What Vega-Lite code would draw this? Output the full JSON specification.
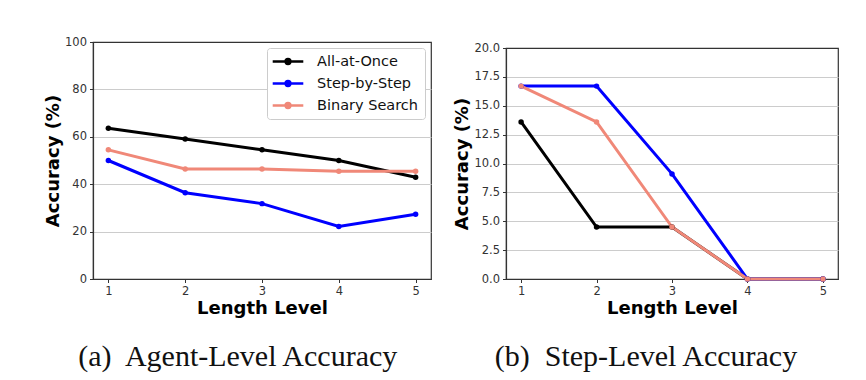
{
  "$schema": "https://vega.github.io/schema/vega-lite/v6.json",
  "padding": {"left": 43, "top": 35, "right": 5, "bottom": 5},
  "spacing": 21,
  "background": "white",
  "datasets": {
    "agent": [
      {"method": "All-at-Once", "level": 1, "acc": 63.6},
      {"method": "All-at-Once", "level": 2, "acc": 59.1},
      {"method": "All-at-Once", "level": 3, "acc": 54.5},
      {"method": "All-at-Once", "level": 4, "acc": 50.0},
      {"method": "All-at-Once", "level": 5, "acc": 42.9},
      {"method": "Step-by-Step", "level": 1, "acc": 50.0},
      {"method": "Step-by-Step", "level": 2, "acc": 36.4},
      {"method": "Step-by-Step", "level": 3, "acc": 31.8},
      {"method": "Step-by-Step", "level": 4, "acc": 22.2},
      {"method": "Step-by-Step", "level": 5, "acc": 27.3},
      {"method": "Binary Search", "level": 1, "acc": 54.5},
      {"method": "Binary Search", "level": 2, "acc": 46.4},
      {"method": "Binary Search", "level": 3, "acc": 46.4},
      {"method": "Binary Search", "level": 4, "acc": 45.5},
      {"method": "Binary Search", "level": 5, "acc": 45.5}
    ],
    "step": [
      {"method": "All-at-Once", "level": 1, "acc": 13.6},
      {"method": "All-at-Once", "level": 2, "acc": 4.5},
      {"method": "All-at-Once", "level": 3, "acc": 4.5},
      {"method": "All-at-Once", "level": 4, "acc": 0},
      {"method": "All-at-Once", "level": 5, "acc": 0},
      {"method": "Step-by-Step", "level": 1, "acc": 16.7},
      {"method": "Step-by-Step", "level": 2, "acc": 16.7},
      {"method": "Step-by-Step", "level": 3, "acc": 9.1},
      {"method": "Step-by-Step", "level": 4, "acc": 0},
      {"method": "Step-by-Step", "level": 5, "acc": 0},
      {"method": "Binary Search", "level": 1, "acc": 16.7},
      {"method": "Binary Search", "level": 2, "acc": 13.6},
      {"method": "Binary Search", "level": 3, "acc": 4.5},
      {"method": "Binary Search", "level": 4, "acc": 0},
      {"method": "Binary Search", "level": 5, "acc": 0}
    ],
    "empty": []
  },
  "resolve": {"legend": {"color": "independent"}},
  "config": {
    "view": {"stroke": "#333", "strokeWidth": 1.2},
    "axis": {
      "labelFont": "DejaVu Sans", "labelFontSize": 11.5, "labelColor": "#333",
      "tickColor": "#333", "tickSize": 3.5, "domainColor": "#333", "domainWidth": 1.2,
      "titleFont": "DejaVu Sans", "titleFontSize": 18, "titleFontWeight": "bold", "titleColor": "#000",
      "labelPadding": 3
    },
    "axisX": {"titlePadding": 2, "grid": false},
    "axisY": {"titlePadding": 2, "gridColor": {"condition": {"test": "datum.value === 0 || datum.value === 100", "value": "transparent"}, "value": "#cccccc"}, "gridWidth": 1.2},
    "title": {"font": "Liberation Serif", "fontSize": 30, "fontWeight": "normal", "color": "#111", "orient": "bottom", "frame": "bounds", "anchor": "middle", "offset": 25},
    "legend": {
      "labelFont": "DejaVu Sans", "labelFontSize": 14.5, "labelColor": "#111",
      "fillColor": "white", "strokeColor": "#cccccc", "cornerRadius": 3, "padding": 6,
      "rowPadding": 6, "labelOffset": 29, "symbolStrokeWidth": 2.5, "symbolSize": 144,
      "symbolType": "M-1.3,0H3.8M0.85,0A0.4,0.4,0,1,1,1.65,0A0.4,0.4,0,1,1,0.85,0Z"
    }
  },
  "hconcat": [
    {
      "width": 338, "height": 237,
      "title": {"text": "(a)\u00a0 Agent-Level Accuracy"},
      "data": {"name": "agent"},
      "encoding": {
        "x": {"field": "level", "type": "quantitative", "scale": {"domain": [0.8, 5.2], "nice": false, "zero": false},
              "axis": {"values": [1, 2, 3, 4, 5], "format": "d", "title": "Length Level"}},
        "y": {"field": "acc", "type": "quantitative", "scale": {"domain": [0, 100], "nice": false},
              "axis": {"values": [0, 20, 40, 60, 80, 100], "title": "Accuracy (%)"}},
        "color": {"field": "method", "type": "nominal", "sort": null,
                  "scale": {"domain": ["All-at-Once", "Step-by-Step", "Binary Search"], "range": ["#000000", "#0000ff", "#f08878"]},
                  "legend": {"title": null, "orient": "top-right", "offset": 6}}
      },
      "layer": [
        {"mark": {"type": "line", "strokeWidth": 3}},
        {"mark": {"type": "point", "filled": true, "size": 30, "opacity": 1}}
      ]
    },
    {
      "spacing": -2,
      "vconcat": [
        {
          "width": 332, "height": 1,
          "view": {"stroke": null},
          "data": {"name": "empty"},
          "mark": {"type": "rule"},
          "encoding": {}
        },
        {
          "width": 332, "height": 231,
          "title": {"text": "(b)\u00a0 Step-Level Accuracy"},
          "data": {"name": "step"},
          "encoding": {
            "x": {"field": "level", "type": "quantitative", "scale": {"domain": [0.8, 5.2], "nice": false, "zero": false},
                  "axis": {"values": [1, 2, 3, 4, 5], "format": "d", "title": "Length Level"}},
            "y": {"field": "acc", "type": "quantitative", "scale": {"domain": [0, 20], "nice": false},
                  "axis": {"values": [0, 2.5, 5, 7.5, 10, 12.5, 15, 17.5, 20], "format": ".1f", "title": "Accuracy (%)",
                           "gridColor": {"condition": {"test": "datum.value === 0 || datum.value === 20", "value": "transparent"}, "value": "#cccccc"}}},
            "color": {"field": "method", "type": "nominal", "sort": null,
                      "scale": {"domain": ["All-at-Once", "Step-by-Step", "Binary Search"], "range": ["#000000", "#0000ff", "#f08878"]},
                      "legend": null}
          },
          "layer": [
            {"mark": {"type": "line", "strokeWidth": 3}},
            {"mark": {"type": "point", "filled": true, "size": 30, "opacity": 1}}
          ]
        }
      ]
    }
  ]
}
